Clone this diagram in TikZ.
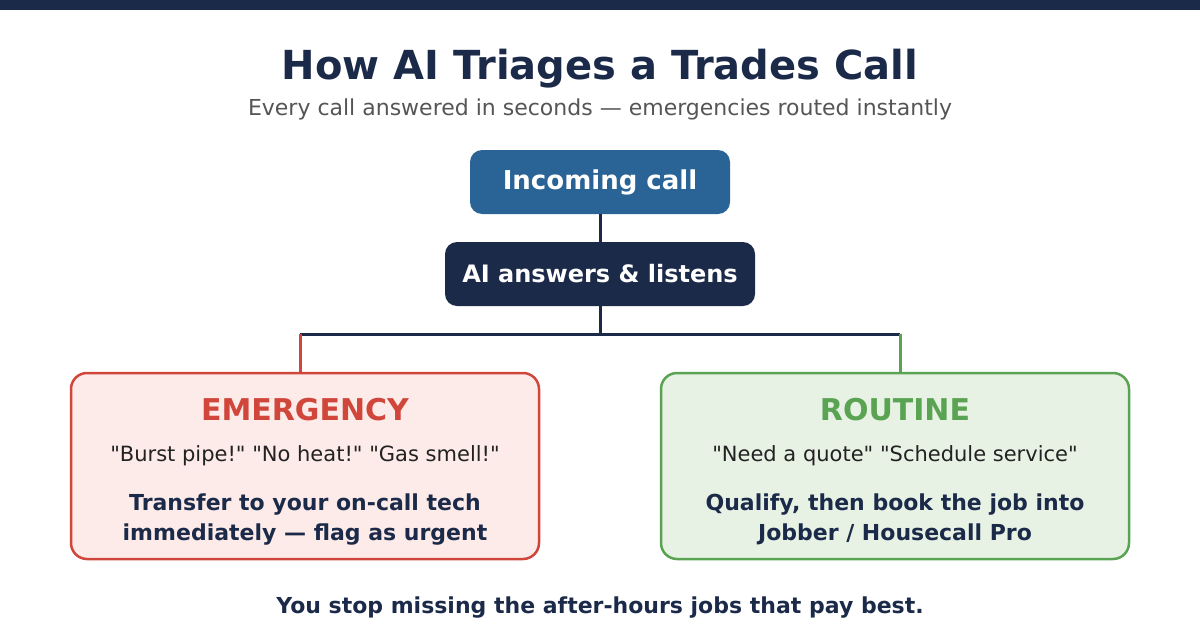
\documentclass[tikz,border=0pt]{standalone}
\usepackage{fontspec}
\setmainfont{DejaVu Sans}[Ligatures=TeXOff]
\usetikzlibrary{positioning}
\definecolor{navy}{HTML}{1C2A4A}
\definecolor{callblue}{HTML}{2A6497}
\definecolor{urgred}{HTML}{D0463B}
\definecolor{urgfill}{HTML}{FCEBE8}
\definecolor{okgreen}{HTML}{5AA352}
\definecolor{okfill}{HTML}{E7F2E4}
\definecolor{subgray}{HTML}{555555}
\definecolor{quotegray}{HTML}{222222}

\begin{document}
\begin{tikzpicture}[x=1pt,y=-1pt,
  callbox/.style={rounded corners=12pt,minimum height=64pt,inner sep=0pt,
    text=white,font=\bfseries\fontsize{26}{30}\selectfont},
  branch/.style={rounded corners=16pt,line width=2.5pt,minimum width=468pt,
    minimum height=186pt,inner sep=0pt},
  head/.style={anchor=base,font=\bfseries\fontsize{30}{34}\selectfont},
  quote/.style={anchor=base,text=quotegray,font=\fontsize{21}{25}\selectfont},
  act/.style={anchor=base,text=navy,font=\bfseries\fontsize{22}{26}\selectfont},
  wire/.style={line width=3pt,draw=navy}]
 \useasboundingbox (0,0) rectangle (1200,640);
 \fill[navy] (0,0) rectangle (1200,10);

 % heading
 \node[anchor=base,text=navy,font=\bfseries\fontsize{40}{44}\selectfont] (title) at (600,79) {How AI Triages a Trades Call};
 \node[anchor=base,text=subgray,font=\fontsize{22}{26}\selectfont] (subtitle) at (600,115) {Every call answered in seconds — emergencies routed instantly};

 % call flow
 \node[callbox,fill=callblue,minimum width=260pt] (incoming) at (600,182) {Incoming call};
 \node[callbox,fill=navy,minimum width=310pt,font=\bfseries\fontsize{24}{28}\selectfont] (ai) at (600,274) {AI answers \& listens};

 % the two branches
 \node[branch,draw=urgred,fill=urgfill] (emergency) at (305,466) {};
 \node[branch,draw=okgreen,fill=okfill] (routine) at (895,466) {};
 \coordinate (split) at (600,334);
 \coordinate (e_top) at (300,334);
 \coordinate (r_top) at (900,334);

 \draw[wire] (incoming) -- (ai);
 \draw[wire] (ai) -- (split);
 \draw[wire] (e_top) -- (r_top);
 \draw[line width=3pt,urgred] (e_top) -- (e_top |- emergency.north);
 \draw[line width=3pt,okgreen] (r_top) -- (r_top |- routine.north);

 % emergency text
 \node[head,text=urgred] (e_head) at (305,420) {EMERGENCY};
 \node[quote] (e_quote) at (305,461) {"Burst pipe!" "No heat!" "Gas smell!"};
 \node[act] (e_act) at (305,510) {Transfer to your on-call tech};
 \node[act] (e_act2) at (305,540) {immediately — flag as urgent};

 % routine text
 \node[head,text=okgreen] (r_head) at (895,420) {ROUTINE};
 \node[quote] (r_quote) at (895,461) {"Need a quote" "Schedule service"};
 \node[act] (r_act) at (895,510) {Qualify, then book the job into};
 \node[act] (r_act2) at (895,540) {Jobber / Housecall Pro};

 % footer
 \node[anchor=base,text=navy,font=\bfseries\fontsize{22}{26}\selectfont] (footer) at (600,613) {You stop missing the after-hours jobs that pay best.};
\end{tikzpicture}
\end{document}
